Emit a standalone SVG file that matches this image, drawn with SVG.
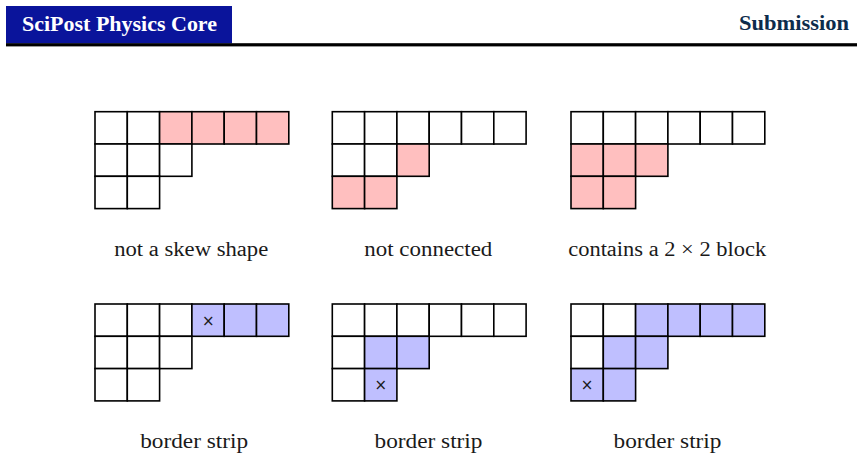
<svg xmlns="http://www.w3.org/2000/svg" width="863" height="460" viewBox="0 0 863 460">
<style>
.c{fill:#ffffff;stroke:#000000;stroke-width:1.6}
.p{fill:#ffbfbf;stroke:#000000;stroke-width:1.6}
.b{fill:#bfbfff;stroke:#000000;stroke-width:1.6}
.lbl{font-family:"Liberation Serif","DejaVu Serif",serif;font-size:20px;fill:#1a1a1a;text-anchor:middle}
.x{font-family:"DejaVu Sans","Liberation Sans",sans-serif;font-size:15px;fill:#1a1a1a;text-anchor:middle}
</style>
<rect width="863" height="460" fill="#ffffff"/>
<g id="header">
<rect x="6" y="6" width="226" height="37.5" fill="#0a149b"/>
<text x="119.5" y="31" font-family="Liberation Serif,DejaVu Serif,serif" font-weight="bold" font-size="20" fill="#ffffff" text-anchor="middle" textLength="195" lengthAdjust="spacingAndGlyphs">SciPost Physics Core</text>
<rect x="6" y="43.2" width="851" height="3.2" fill="#000000"/>
<text x="849" y="30" font-family="Liberation Serif,DejaVu Serif,serif" font-weight="bold" font-size="20" fill="#0d2c4c" text-anchor="end" textLength="110" lengthAdjust="spacingAndGlyphs">Submission</text>
</g>
<g id="d1" transform="translate(95,111.7)">
<rect class="c" x="0" y="0" width="32.3" height="32.3"/>
<rect class="c" x="32.3" y="0" width="32.3" height="32.3"/>
<rect class="p" x="64.6" y="0" width="32.3" height="32.3"/>
<rect class="p" x="96.9" y="0" width="32.3" height="32.3"/>
<rect class="p" x="129.2" y="0" width="32.3" height="32.3"/>
<rect class="p" x="161.5" y="0" width="32.3" height="32.3"/>
<rect class="c" x="0" y="32.3" width="32.3" height="32.3"/>
<rect class="c" x="32.3" y="32.3" width="32.3" height="32.3"/>
<rect class="c" x="64.6" y="32.3" width="32.3" height="32.3"/>
<rect class="c" x="0" y="64.6" width="32.3" height="32.3"/>
<rect class="c" x="32.3" y="64.6" width="32.3" height="32.3"/>
</g>
<g id="d2" transform="translate(332.3,111.7)">
<rect class="c" x="0" y="0" width="32.3" height="32.3"/>
<rect class="c" x="32.3" y="0" width="32.3" height="32.3"/>
<rect class="c" x="64.6" y="0" width="32.3" height="32.3"/>
<rect class="c" x="96.9" y="0" width="32.3" height="32.3"/>
<rect class="c" x="129.2" y="0" width="32.3" height="32.3"/>
<rect class="c" x="161.5" y="0" width="32.3" height="32.3"/>
<rect class="c" x="0" y="32.3" width="32.3" height="32.3"/>
<rect class="c" x="32.3" y="32.3" width="32.3" height="32.3"/>
<rect class="p" x="64.6" y="32.3" width="32.3" height="32.3"/>
<rect class="p" x="0" y="64.6" width="32.3" height="32.3"/>
<rect class="p" x="32.3" y="64.6" width="32.3" height="32.3"/>
</g>
<g id="d3" transform="translate(571,111.7)">
<rect class="c" x="0" y="0" width="32.3" height="32.3"/>
<rect class="c" x="32.3" y="0" width="32.3" height="32.3"/>
<rect class="c" x="64.6" y="0" width="32.3" height="32.3"/>
<rect class="c" x="96.9" y="0" width="32.3" height="32.3"/>
<rect class="c" x="129.2" y="0" width="32.3" height="32.3"/>
<rect class="c" x="161.5" y="0" width="32.3" height="32.3"/>
<rect class="p" x="0" y="32.3" width="32.3" height="32.3"/>
<rect class="p" x="32.3" y="32.3" width="32.3" height="32.3"/>
<rect class="p" x="64.6" y="32.3" width="32.3" height="32.3"/>
<rect class="p" x="0" y="64.6" width="32.3" height="32.3"/>
<rect class="p" x="32.3" y="64.6" width="32.3" height="32.3"/>
</g>
<g id="d4" transform="translate(95,304)">
<rect class="c" x="0" y="0" width="32.3" height="32.3"/>
<rect class="c" x="32.3" y="0" width="32.3" height="32.3"/>
<rect class="c" x="64.6" y="0" width="32.3" height="32.3"/>
<rect class="b" x="96.9" y="0" width="32.3" height="32.3"/>
<rect class="b" x="129.2" y="0" width="32.3" height="32.3"/>
<rect class="b" x="161.5" y="0" width="32.3" height="32.3"/>
<rect class="c" x="0" y="32.3" width="32.3" height="32.3"/>
<rect class="c" x="32.3" y="32.3" width="32.3" height="32.3"/>
<rect class="c" x="64.6" y="32.3" width="32.3" height="32.3"/>
<rect class="c" x="0" y="64.6" width="32.3" height="32.3"/>
<rect class="c" x="32.3" y="64.6" width="32.3" height="32.3"/>
<text class="x" x="113.3" y="21.5">×</text>
</g>
<g id="d5" transform="translate(332.3,304)">
<rect class="c" x="0" y="0" width="32.3" height="32.3"/>
<rect class="c" x="32.3" y="0" width="32.3" height="32.3"/>
<rect class="c" x="64.6" y="0" width="32.3" height="32.3"/>
<rect class="c" x="96.9" y="0" width="32.3" height="32.3"/>
<rect class="c" x="129.2" y="0" width="32.3" height="32.3"/>
<rect class="c" x="161.5" y="0" width="32.3" height="32.3"/>
<rect class="c" x="0" y="32.3" width="32.3" height="32.3"/>
<rect class="b" x="32.3" y="32.3" width="32.3" height="32.3"/>
<rect class="b" x="64.6" y="32.3" width="32.3" height="32.3"/>
<rect class="c" x="0" y="64.6" width="32.3" height="32.3"/>
<rect class="b" x="32.3" y="64.6" width="32.3" height="32.3"/>
<text class="x" x="48.4" y="86.1">×</text>
</g>
<g id="d6" transform="translate(571,304)">
<rect class="c" x="0" y="0" width="32.3" height="32.3"/>
<rect class="c" x="32.3" y="0" width="32.3" height="32.3"/>
<rect class="b" x="64.6" y="0" width="32.3" height="32.3"/>
<rect class="b" x="96.9" y="0" width="32.3" height="32.3"/>
<rect class="b" x="129.2" y="0" width="32.3" height="32.3"/>
<rect class="b" x="161.5" y="0" width="32.3" height="32.3"/>
<rect class="c" x="0" y="32.3" width="32.3" height="32.3"/>
<rect class="b" x="32.3" y="32.3" width="32.3" height="32.3"/>
<rect class="b" x="64.6" y="32.3" width="32.3" height="32.3"/>
<rect class="b" x="0" y="64.6" width="32.3" height="32.3"/>
<rect class="b" x="32.3" y="64.6" width="32.3" height="32.3"/>
<text class="x" x="16.1" y="86.1">×</text>
</g>
<g id="labels">
<text class="lbl" x="191.2" y="255.5" textLength="154" lengthAdjust="spacingAndGlyphs">not a skew shape</text>
<text class="lbl" x="428.3" y="255.5" textLength="128" lengthAdjust="spacingAndGlyphs">not connected</text>
<text class="lbl" x="667.2" y="255.5" textLength="198" lengthAdjust="spacingAndGlyphs">contains a 2 × 2 block</text>
<text class="lbl" x="194.2" y="448" textLength="108" lengthAdjust="spacingAndGlyphs">border strip</text>
<text class="lbl" x="428.5" y="448" textLength="108" lengthAdjust="spacingAndGlyphs">border strip</text>
<text class="lbl" x="667.5" y="448" textLength="108" lengthAdjust="spacingAndGlyphs">border strip</text>
</g>
</svg>
